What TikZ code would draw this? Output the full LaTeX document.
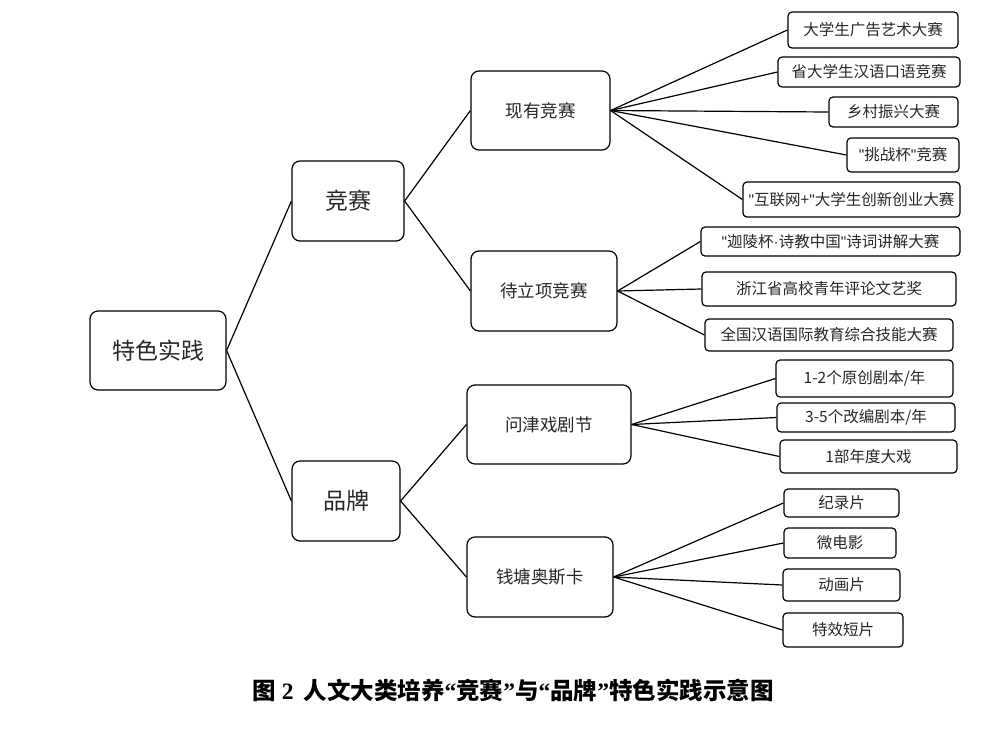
\documentclass[tikz,border=0pt]{standalone}
\usepackage{fontspec}
\setmainfont{Noto Sans CJK SC}[Mapping=]
\newfontfamily\capfont{Noto Sans CJK SC}
\newfontfamily\capnum{Liberation Serif}
\newfontfamily\qf{Liberation Sans}
\newcommand\sq{{\qf\char34}}
\newcommand\md{{\qf\char"00B7}}
\begin{document}
\begin{tikzpicture}[x=1pt,y=-1pt,
  box/.style={draw=black, line width=1.2pt, inner sep=0pt, align=center, text=black!85},
  big/.style={box, rounded corners=8pt, font=\fontsize{23}{26}\selectfont},
  mid/.style={box, rounded corners=8pt, font=\fontsize{17.5}{20}\selectfont},
  leaf/.style={box, rounded corners=4pt, font=\fontsize{15.5}{18}\selectfont},
  link/.style={draw=black, line width=1.2pt}]
\useasboundingbox (0,0) rectangle (988,753);
\newcommand\bx[6]{\node[#1, minimum width=#4pt, minimum height=#5pt] (#2) at #3 {#6};}
% root and level 1
\bx{big}{root}{(158,350.5)}{136}{79}{特色实践}
\bx{big}{js}{(348,201)}{112}{80}{竞赛}
\bx{big}{pp}{(346,501)}{108}{80}{品牌}
% level 2
\bx{mid}{xy}{(540.5,110.5)}{139}{79}{现有竞赛}
\bx{mid}{dl}{(544,291)}{146}{80}{待立项竞赛}
\bx{mid}{wj}{(549,424.5)}{164}{79}{问津戏剧节}
\bx{mid}{qt}{(540,577)}{146}{80}{钱塘奥斯卡}
% leaves
\bx{leaf}{a1}{(873,30)}{170}{36}{大学生广告艺术大赛}
\bx{leaf}{a2}{(869,72)}{182}{30}{省大学生汉语口语竞赛}
\bx{leaf}{a3}{(893.5,112)}{129}{30}{乡村振兴大赛}
\bx{leaf}{a4}{(903,155)}{112}{34}{\sq 挑战杯\sq 竞赛}
\bx{leaf}{a5}{(851.5,199.5)}{217}{35}{\sq 互联网+\sq 大学生创新创业大赛}
\bx{leaf}{b1}{(830.5,241.5)}{259}{29}{\sq 迦陵杯\md 诗教中国\sq 诗词讲解大赛}
\bx{leaf}{b2}{(829,289)}{254}{34}{浙江省高校青年评论文艺奖}
\bx{leaf}{b3}{(829,335)}{248}{32}{全国汉语国际教育综合技能大赛}
\bx{leaf}{c1}{(864.5,378.5)}{177}{37}{1-2个原创剧本/年}
\bx{leaf}{c2}{(866,417.5)}{178}{29}{3-5个改编剧本/年}
\bx{leaf}{c3}{(868.5,456.5)}{177}{33}{1部年度大戏}
\bx{leaf}{d1}{(841.5,503)}{115}{28}{纪录片}
\bx{leaf}{d2}{(840,543)}{112}{30}{微电影}
\bx{leaf}{d3}{(841.5,585)}{117}{32}{动画片}
\bx{leaf}{d4}{(843,630)}{120}{34}{特效短片}
% connectors
\foreach \p/\c in {root/js, root/pp, js/xy, js/dl, pp/wj, pp/qt,
  xy/a1, xy/a2, xy/a3, xy/a4, xy/a5, dl/b1, dl/b2, dl/b3,
  wj/c1, wj/c2, wj/c3, qt/d1, qt/d2, qt/d3, qt/d4}
  \draw[link] (\p.east) -- (\c.west);
% caption
\node[inner sep=0pt, text=black] (cap) at (513,690)
  {\fontsize{23.5}{26}\selectfont\bfseries\capfont 图{\capnum\bfseries\hspace{6pt}2\hspace{10pt}}人文大类培养{\capnum\bfseries “}竞赛{\capnum\bfseries ”}与{\capnum\bfseries “}品牌{\capnum\bfseries ”}特色实践示意图};
\end{tikzpicture}
\end{document}
